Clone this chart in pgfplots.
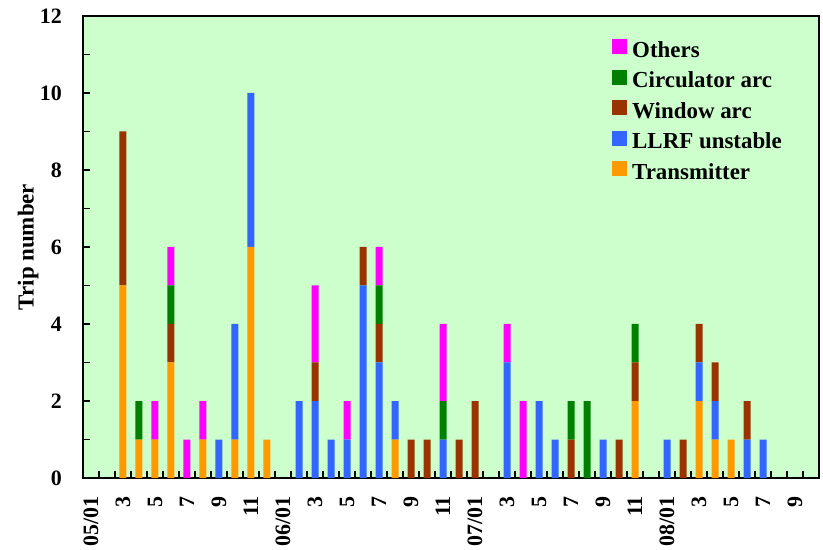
\documentclass[border=0pt]{standalone}
\usepackage{fontspec}
\setmainfont{Liberation Serif}
\usepackage{pgfplots}
\usepackage{pgfplotstable}
\pgfplotsset{compat=1.18}
\definecolor{bg}{RGB}{204,255,204}
\definecolor{cOth}{RGB}{255,0,255}
\definecolor{cCir}{RGB}{0,128,0}
\definecolor{cWin}{RGB}{153,51,0}
\definecolor{cLLRF}{RGB}{51,102,255}
\definecolor{cTx}{RGB}{255,153,0}
\pgfplotstableread{
idx tx llrf win cir oth
0 0 0 0 0 0
1 0 0 0 0 0
2 5 0 4 0 0
3 1 0 0 1 0
4 1 0 0 0 1
5 3 0 1 1 1
6 0 0 0 0 1
7 1 0 0 0 1
8 0 1 0 0 0
9 1 3 0 0 0
10 6 4 0 0 0
11 1 0 0 0 0
12 0 0 0 0 0
13 0 2 0 0 0
14 0 2 1 0 2
15 0 1 0 0 0
16 0 1 0 0 1
17 0 5 1 0 0
18 0 3 1 1 1
19 1 1 0 0 0
20 0 0 1 0 0
21 0 0 1 0 0
22 0 1 0 1 2
23 0 0 1 0 0
24 0 0 2 0 0
25 0 0 0 0 0
26 0 3 0 0 1
27 0 0 0 0 2
28 0 2 0 0 0
29 0 1 0 0 0
30 0 0 1 1 0
31 0 0 0 2 0
32 0 1 0 0 0
33 0 0 1 0 0
34 2 0 1 1 0
35 0 0 0 0 0
36 0 1 0 0 0
37 0 0 1 0 0
38 2 1 1 0 0
39 1 1 1 0 0
40 1 0 0 0 0
41 0 1 1 0 0
42 0 1 0 0 0
43 0 0 0 0 0
44 0 0 0 0 0
45 0 0 0 0 0
}\trips
\newcommand\tfont{\fontsize{22}{26}\selectfont\bfseries}
\newcommand\lfont{\fontsize{23}{27}\selectfont\bfseries}
\begin{document}
\begin{tikzpicture}
\begin{axis}[
  scale only axis,
  width=736bp, height=462bp,
  xmin=-0.5, xmax=45.5, ymin=0, ymax=12,
  ybar stacked, bar width=7bp,
  axis background/.style={fill=bg},
  axis line style={line width=1.3bp},
  tick style={line width=1.2bp, black},
  major tick length=7.5bp, minor tick length=7.5bp,
  tick align=inside,
  xtick pos=bottom, ytick pos=left,
  xtick={0.5,1.5,...,44.5},
  xticklabels={},
  extra x ticks={0,2,...,44},
  extra x tick labels={05/01,3,5,7,9,11,06/01,3,5,7,9,11,07/01,3,5,7,9,11,08/01,3,5,7,9},
  extra x tick style={major tick length=0pt},
  xticklabel style={yshift=-18bp, rotate=90, anchor=east, inner sep=0pt},
  ytick={0,2,...,12},
  minor ytick={1,3,...,11},
  yticklabel style={xshift=-21bp, anchor=east, inner sep=0pt},
  /pgf/number format/assume math mode=true,
  tick label style={font=\tfont},
  ylabel={Trip number},
  ylabel style={at={(axis description cs:-0.0747,0.5)}, anchor=center, font=\lfont},
  reverse legend,
  legend style={at={(axis description cs:0,1)}, anchor=north west,
    xshift=529bp, yshift=-23bp, draw=none, fill=none, inner sep=0pt,
    font=\lfont,
    nodes={inner sep=1bp, text height=17bp, text depth=5bp},
    row sep=6.5bp},
  legend cell align=left,
  legend image code/.code={\fill[#1] (0bp,-3bp) rectangle (15bp,12bp); \path (19bp,0bp);},
]
\addplot+[draw=none, fill=cTx] table[x=idx, y=tx] {\trips};
\addplot+[draw=none, fill=cLLRF] table[x=idx, y=llrf] {\trips};
\addplot+[draw=none, fill=cWin] table[x=idx, y=win] {\trips};
\addplot+[draw=none, fill=cCir] table[x=idx, y=cir] {\trips};
\addplot+[draw=none, fill=cOth] table[x=idx, y=oth] {\trips};
\legend{Transmitter, LLRF unstable, Window arc, Circulator arc, Others}
\end{axis}
\pgfresetboundingbox
\path[use as bounding box] (-83bp,-72bp) rectangle (740bp,478bp);
\end{tikzpicture}
\end{document}
